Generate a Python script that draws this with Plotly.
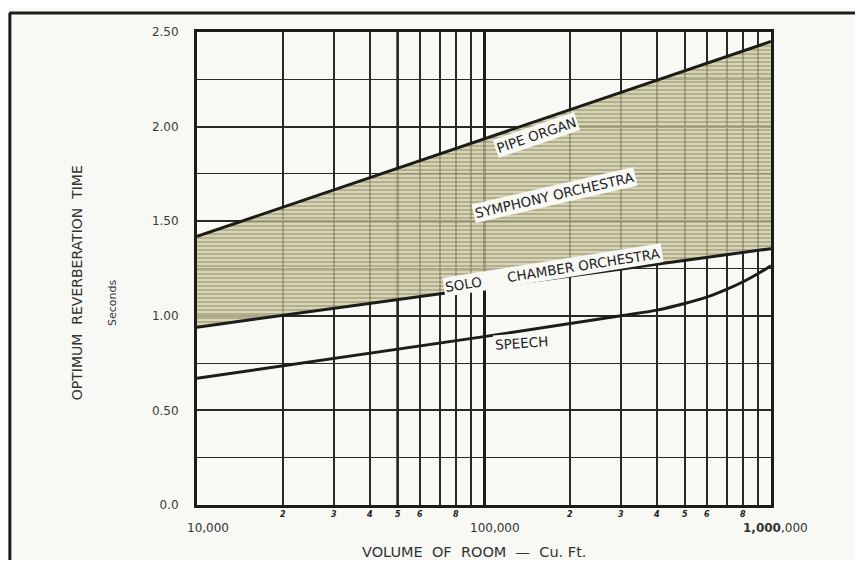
import math
import plotly.graph_objects as go

# room volume (cu. ft.) and optimum reverberation time (s)
volume_ends = [10000, 1000000]
pipe_organ = [1.42, 2.45]
solo_chamber = [0.94, 1.355]

speech_volume = [10000, 100000, 300000, 400000, 500000, 600000, 700000, 800000, 900000, 1000000]
speech_time = [0.67, 0.89, 1.00, 1.03, 1.065, 1.10, 1.14, 1.18, 1.222, 1.265]

y_ticks = [0, 0.5, 1.0, 1.5, 2.0, 2.5]
y_ticktext = ["0.0", "0.50", "1.00", "1.50", "2.00", "2.50"]
y_minor = [0.25, 0.75, 1.25, 1.75, 2.25]

decades = [10000, 100000, 1000000]
decade_text = ["10,000", "100,000", "<b>1,000</b>,000"]
minor_digits = [2, 3, 4, 5, 6, 7, 8, 9]
labelled_digits = [2, 3, 4, 5, 6, 8]

# curve labels: text, volume, time, angle
curve_labels = [
    ("PIPE ORGAN", 152000, 1.955, -19),
    ("SYMPHONY ORCHESTRA", 176000, 1.64, -13),
    ("SOLO" + "&nbsp;" * 6 + "CHAMBER ORCHESTRA", 174000, 1.242, -9),
    ("SPEECH", 135000, 0.855, -4),
]

INK = "#1c1c18"
FONT = "DejaVu Sans"
BG = "#f8f8f4"

fig = go.Figure()

fig.add_trace(go.Scatter(x=volume_ends, y=solo_chamber, mode="lines",
                         line=dict(color=INK, width=3), hoverinfo="skip"))
fig.add_trace(go.Scatter(x=volume_ends, y=pipe_organ, mode="lines",
                         line=dict(color=INK, width=3), fill="tonexty",
                         fillcolor="rgba(206,204,162,0.8)",
                         fillpattern=dict(shape="-", size=4, solidity=0.3,
                                          fgcolor="#58573f",
                                          bgcolor="rgba(206,204,162,0.78)"),
                         hoverinfo="skip"))
fig.add_trace(go.Scatter(x=speech_volume, y=speech_time, mode="lines",
                         line=dict(color=INK, width=3, shape="spline", smoothing=1),
                         hoverinfo="skip"))

minor_x = [d * m for d in decades[:-1] for m in minor_digits]

fig.update_xaxes(type="log", range=[4, 6], tickvals=decades, showticklabels=False,
                 ticks="", showgrid=True, gridcolor=INK, gridwidth=3,
                 showline=True, linecolor=INK, linewidth=3, mirror=True,
                 zeroline=False,
                 minor=dict(tickvals=minor_x, showgrid=True, gridcolor="#2a2a24",
                            gridwidth=1.5, ticks=""))
fig.update_yaxes(range=[0, 2.5], tickvals=y_ticks, ticktext=y_ticktext,
                 ticks="", ticklabelstandoff=13,
                 tickfont=dict(family=FONT, size=12, color="#3a3a3a"),
                 showgrid=True, gridcolor="#2a2a24", gridwidth=1.5,
                 showline=True, linecolor=INK, linewidth=3, mirror=True,
                 zeroline=False,
                 minor=dict(tickvals=y_minor, showgrid=True, gridcolor="#2a2a24",
                            gridwidth=1.2, ticks=""))

# heavier line at 50,000
fig.add_shape(type="line", xref="x", yref="paper", x0=50000, x1=50000, y0=0, y1=1,
              line=dict(color=INK, width=2.5), layer="below")

annotations = []
for d, t in zip(decades, decade_text):
    annotations.append(dict(x=math.log10(d), y=-0.049, xref="x", yref="paper",
                            xanchor="center", yanchor="middle",
                            text=t, showarrow=False, xshift=11 if d < 1e6 else 4,
                            font=dict(family=FONT, size=12, color="#333")))
for d in decades[:-1]:
    for m in labelled_digits:
        annotations.append(dict(x=math.log10(d * m), y=-0.021, xref="x", yref="paper",
                                xanchor="center", yanchor="middle",
                                text="<b><i>%d</i></b>" % m, showarrow=False,
                                font=dict(family=FONT, size=8, color="#222")))
for text, v, t, ang in curve_labels:
    annotations.append(dict(x=math.log10(v), y=t, xref="x", yref="y", text=text,
                            xanchor="center", yanchor="middle",
                            showarrow=False, textangle=ang, bgcolor=BG, borderpad=1,
                            font=dict(family=FONT, size=13.5, color="#222")))

annotations.append(dict(x=0.483, y=-0.099, xref="paper", yref="paper",
                        xanchor="center", yanchor="middle",
                        text="VOLUME&nbsp;&nbsp;OF&nbsp;&nbsp;ROOM&nbsp;&nbsp;—&nbsp;&nbsp;Cu.&nbsp;Ft.",
                        showarrow=False,
                        font=dict(family=FONT, size=14.5, color="#333")))
annotations.append(dict(x=-0.209, y=0.469, xref="paper", yref="paper",
                        xanchor="center", yanchor="middle",
                        text="OPTIMUM&nbsp;&nbsp;REVERBERATION&nbsp;&nbsp;TIME", showarrow=False,
                        textangle=-90, font=dict(family=FONT, size=14, color="#333")))
annotations.append(dict(x=-0.148, y=0.427, xref="paper", yref="paper",
                        xanchor="center", yanchor="middle",
                        text="Seconds", showarrow=False,
                        textangle=-90, font=dict(family=FONT, size=11, color="#333")))

# outer frame (top and left edges of the page)
fig.add_shape(type="line", xref="paper", yref="paper", x0=-0.327, x1=1.2,
              y0=1.04, y1=1.04, line=dict(color=INK, width=3))
fig.add_shape(type="line", xref="paper", yref="paper", x0=-0.326, x1=-0.326,
              y0=1.04, y1=-0.2, line=dict(color=INK, width=3))

# page body adds an 8px offset, so the figure is drawn 8px smaller
fig.update_layout(width=855, height=552, showlegend=False,
                  margin=dict(l=189, r=92, t=24, b=55),
                  paper_bgcolor=BG, plot_bgcolor=BG,
                  annotations=annotations)

fig.write_html("out.html")
